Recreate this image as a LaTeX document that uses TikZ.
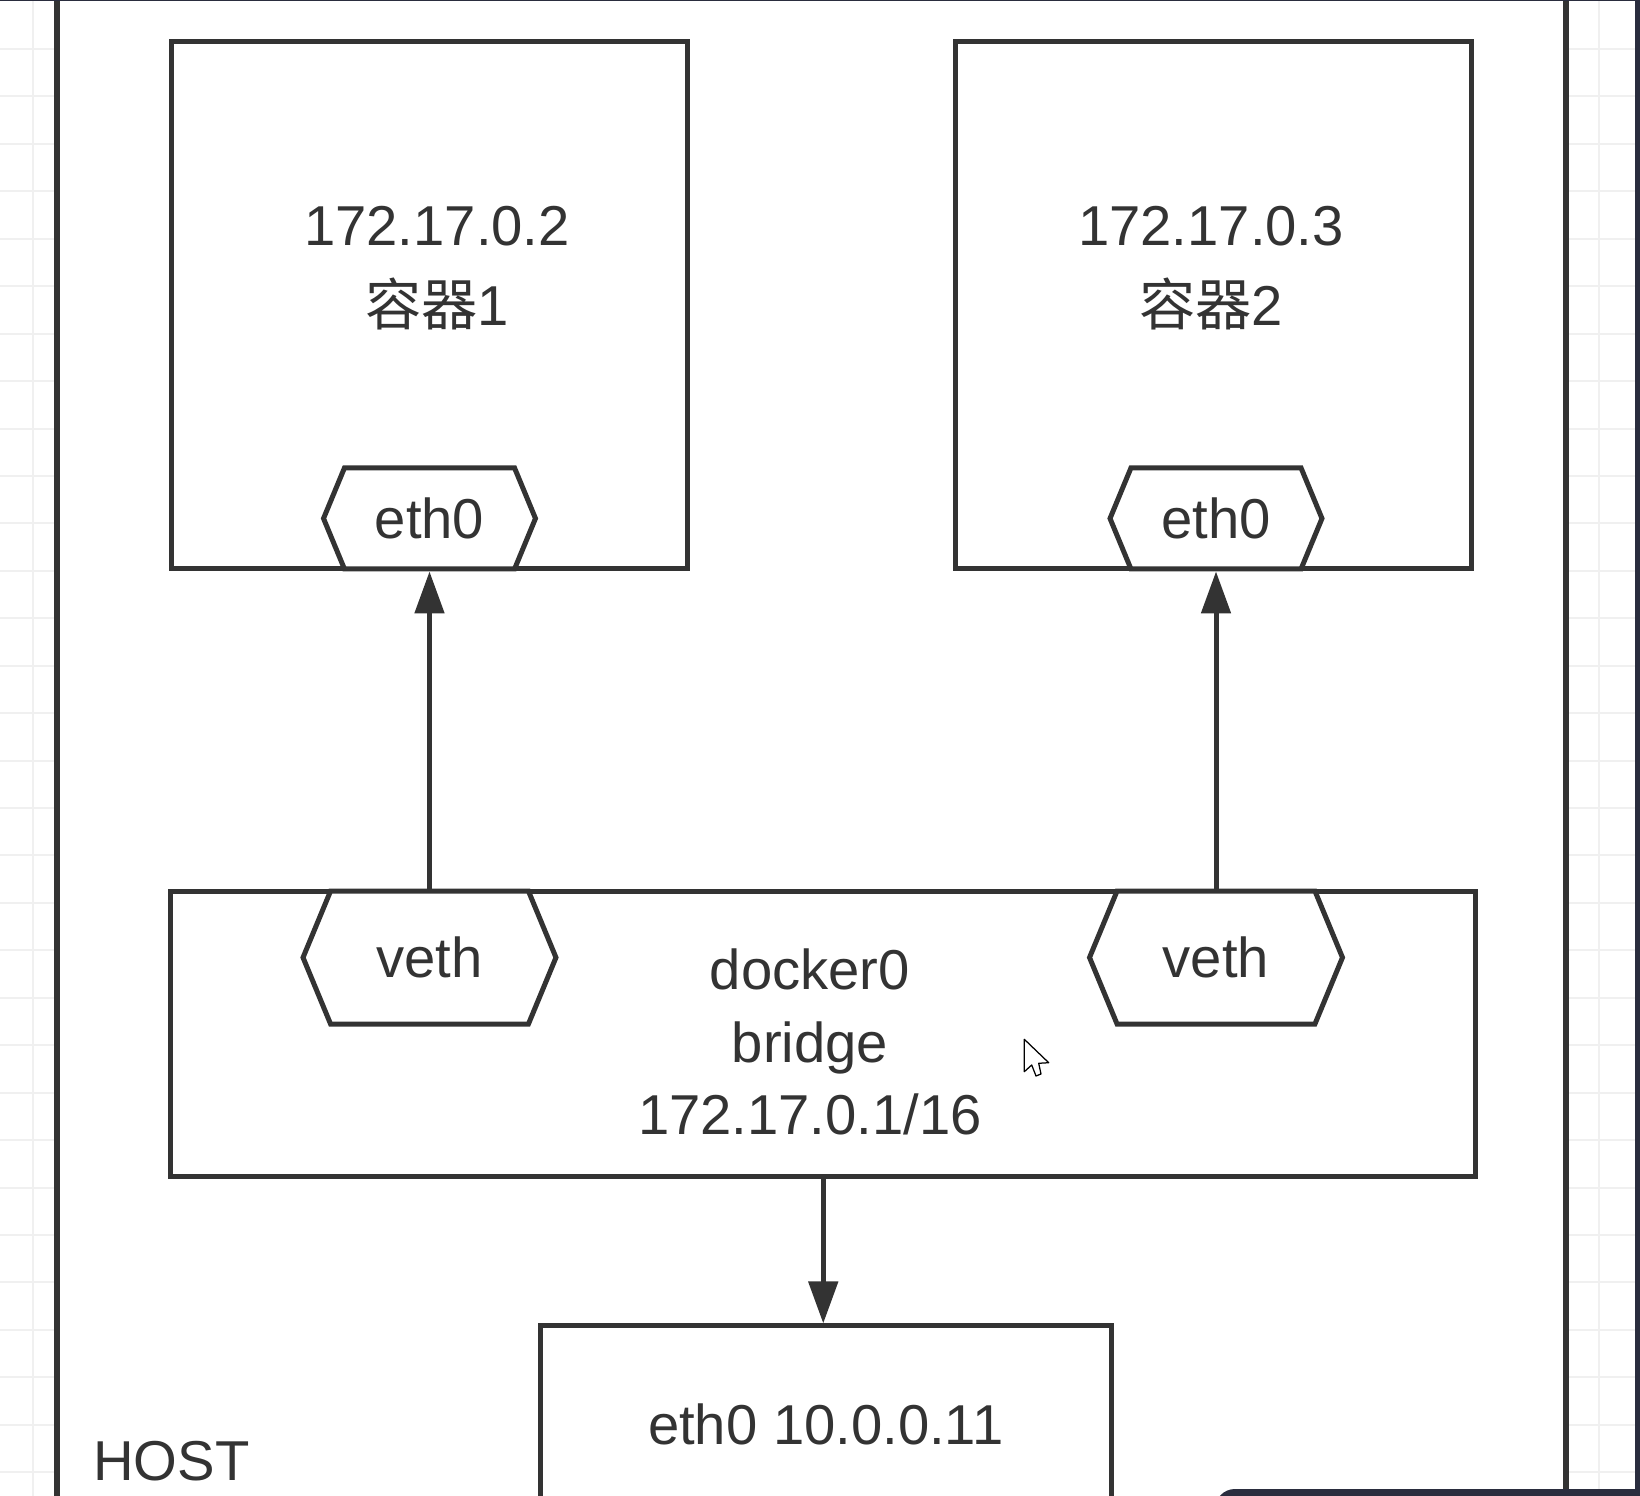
\documentclass[tikz,border=0pt]{standalone}
\usepackage{fontspec}
\setmainfont{Liberation Sans}
\newfontfamily\cjk{Noto Sans CJK SC}
\usepackage{xcolor}
\usetikzlibrary{positioning, arrows.meta, shapes.symbols}
\definecolor{ink}{HTML}{333333}
\definecolor{screen}{HTML}{2A2D3E}
\definecolor{gridgray}{HTML}{F0F0F0}

\begin{document}
\begin{tikzpicture}[
    x=0.02cm, y=-0.02cm,
    >={Triangle[length=0.84cm, width=0.58cm]},
    box/.style={draw=ink, line width=0.1cm, fill=white, inner sep=0pt},
    ctr/.style={box, minimum width=10.34cm, minimum height=10.55cm},
    port/.style={box, signal, signal to=east and west, signal pointer angle=135, font=\fontsize{32}{38}\selectfont, text=ink},
    ethport/.style={port, minimum width=4.24cm, minimum height=2.02cm},
    vethport/.style={port, minimum width=5.06cm, minimum height=2.66cm},
    lbl/.style={font=\fontsize{32}{38}\selectfont, text=ink, align=center, inner sep=0pt},
    arr/.style={->, draw=ink, line width=0.1cm},
    gridline/.style={draw=gridgray, line width=0.04cm},
]
\useasboundingbox (0,0) rectangle (1640,1496);
\clip (0,0) rectangle (1640,1496);
\fill[white] (0,0) rectangle (1640,1496);

% Grid outside the host
\foreach \k in {0,...,30} {
  \draw[gridline] (0,{49+47.44*\k}) -- (57,{49+47.44*\k});
  \draw[gridline] (1566,{49+47.44*\k}) -- (1640,{49+47.44*\k});
}
\draw[gridline] (33,0) -- (33,1496);
\draw[gridline] (1599,0) -- (1599,1496);

% Host frame
\draw[ink, line width=0.11cm] (57,0) -- (57,1496);
\draw[ink, line width=0.11cm] (1566,0) -- (1566,1496);
\node[lbl, anchor=base west] (host) at (93,1480) {HOST};

% Containers
\node[ctr] (c1) at (429.5,305.25) {};
\node[ctr] (c2) at (1213.5,305.25) {};
\node[lbl, font=\fontsize{32}{45.2}\selectfont] (c1txt) at (437,268) {172.17.0.2\\{\cjk 容器}1};
\node[lbl, font=\fontsize{32}{45.2}\selectfont] (c2txt) at (1211,268) {172.17.0.3\\{\cjk 容器}2};
\node[ethport, anchor=south] (eth1) at (c1.south) {eth0};
\node[ethport, anchor=south] (eth2) at ([xshift=0.05cm]c2.south) {eth0};

% Bridge
\node[box, minimum width=26.11cm, minimum height=5.72cm] (bridge) at (823.25,1034) {};
\node[lbl, font=\fontsize{32}{41.3}\selectfont] (brtxt) at (810,1042) {docker0\\bridge\\172.17.0.1/16};
\node[vethport, anchor=north] (veth1) at (eth1 |- bridge.north) {veth};
\node[vethport, anchor=north] (veth2) at (eth2 |- bridge.north) {veth};

% Host interface
\node[box, minimum width=11.42cm, minimum height=6cm, below=2.88cm of bridge, xshift=0.05cm] (heth) {};
\node[lbl, anchor=base] (hethtxt) at ([yshift=-2.43cm]heth.north) {eth0 10.0.0.11};

% Arrows
\draw[arr] (veth1.north) -- (eth1.south);
\draw[arr] (veth2.north) -- (eth2.south);
\draw[arr] (bridge.south) -- (bridge.south |- heth.north);

% Pointer
\draw[black, line width=0.025cm, fill=white, line join=round] (1024.3,1039.3) -- (1024.3,1071.7) -- (1031.7,1065) -- (1036,1076) -- (1041,1074) -- (1038.7,1063.3) -- (1048.7,1062.7) -- cycle;

% Screen edge
\fill[screen] (0,0) rectangle (1640,1.5);
\fill[screen] (1635,0) rectangle (1640,1496);
\fill[screen, rounded corners=0.4cm] (1215,1489) rectangle (1680,1540);
\end{tikzpicture}
\end{document}
